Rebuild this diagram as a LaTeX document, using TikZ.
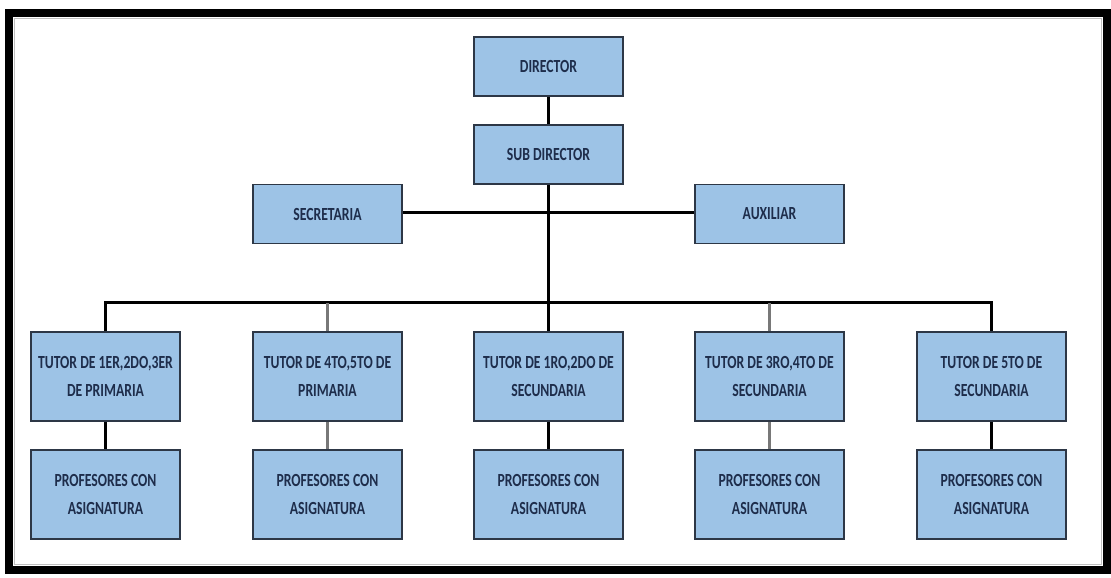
\documentclass[tikz,border=0pt]{standalone}
\usepackage{fontspec}
\newfontfamily\boxfont{Carlito}[FakeStretch=0.74]
\definecolor{boxfill}{RGB}{157,195,230}
\definecolor{boxedge}{RGB}{45,55,70}
\definecolor{boxtext}{RGB}{30,45,75}
\definecolor{greyline}{RGB}{120,120,120}
\begin{document}
\begin{tikzpicture}[x=1pt,y=-1pt,
  orgbox/.style={draw=boxedge, line width=1.8pt, fill=boxfill, text=boxtext,
    minimum width=149pt, inner sep=0pt, align=center,
    font=\boxfont\bfseries\fontsize{18.5}{28}\selectfont},
  smallbox/.style={orgbox, minimum height=59pt},
  bigbox/.style={orgbox, minimum height=89pt},
  link/.style={line width=2.4pt, black},
  glink/.style={line width=2.4pt, greyline}]
\useasboundingbox (0,0) rectangle (1111,578);
% frame
\draw[line width=8.5pt, black] (9,13) rectangle (1107,570);
\draw[line width=0.8pt, black!25] (14.5,18.5) rectangle (1101.5,564.5);
% top nodes
\node[smallbox] (dir) at (548.5,66.5) {DIRECTOR};
\node[smallbox] (sub) at (548.5,154.5) {SUB DIRECTOR};
\node[smallbox] (sec) at (327.5,214) {SECRETARIA};
\node[smallbox] (aux) at (769.5,214) {AUXILIAR};
% tutors
\node[bigbox] (t1) at (105.5,376.5) {TUTOR DE 1ER,2DO,3ER\\DE PRIMARIA};
\node[bigbox] (t2) at (327.5,376.5) {TUTOR DE 4TO,5TO DE\\PRIMARIA};
\node[bigbox] (t3) at (548.5,376.5) {TUTOR DE 1RO,2DO DE\\SECUNDARIA};
\node[bigbox] (t4) at (769.5,376.5) {TUTOR DE 3RO,4TO DE\\SECUNDARIA};
\node[bigbox] (t5) at (991.5,376.5) {TUTOR DE 5TO DE\\SECUNDARIA};
% profesores
\node[bigbox] (p1) at (105.5,494.5) {PROFESORES CON\\ASIGNATURA};
\node[bigbox] (p2) at (327.5,494.5) {PROFESORES CON\\ASIGNATURA};
\node[bigbox] (p3) at (548.5,494.5) {PROFESORES CON\\ASIGNATURA};
\node[bigbox] (p4) at (769.5,494.5) {PROFESORES CON\\ASIGNATURA};
\node[bigbox] (p5) at (991.5,494.5) {PROFESORES CON\\ASIGNATURA};
% connectors
\coordinate (bus) at (548.5,302.5);
\coordinate (mid) at (548.5,212.5);
\draw[link] (dir.south) -- (sub.north);
\draw[link] (sub.south) -- (bus);
\draw[link] (sec.east |- mid) -- (aux.west |- mid);
\draw[link] (t1.north) |- (bus) -| (t5.north);
\draw[glink] (t2.north) -- (t2.north |- bus);
\draw[link] (t3.north) -- (bus);
\draw[glink] (t4.north) -- (t4.north |- bus);
\draw[link] (t1.south) -- (p1.north);
\draw[glink] (t2.south) -- (p2.north);
\draw[link] (t3.south) -- (p3.north);
\draw[glink] (t4.south) -- (p4.north);
\draw[link] (t5.south) -- (p5.north);
\end{tikzpicture}
\end{document}
